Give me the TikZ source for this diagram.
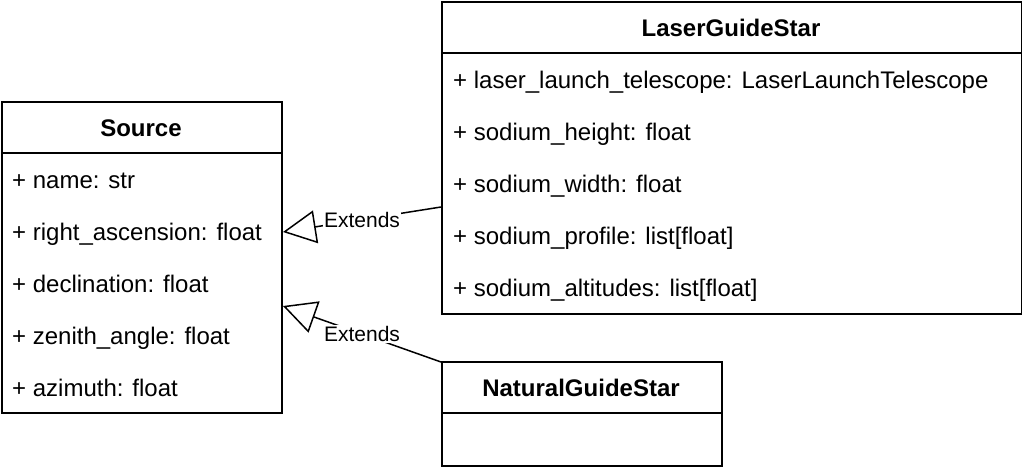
\documentclass[tikz,border=0pt]{standalone}
\usepackage{fontspec}
\setmainfont{Liberation Sans}
\usetikzlibrary{arrows.meta}
\tikzset{
  box/.style={draw, line width=1.5pt, fill=white, anchor=north west, inner sep=0pt},
  title/.style={font=\fontsize{24pt}{28pt}\selectfont\bfseries, inner sep=0pt},
  attr/.style={font=\fontsize{24pt}{28pt}\selectfont, anchor=west, inner sep=0pt, text height=0.75em, text depth=0.25em, yshift=-6pt},
  sep/.style={line width=1.5pt},
  extends/.style={line width=1.5pt, -{Triangle[open, length=33pt, width=33pt, line width=1.5pt]}},
  lbl/.style={font=\fontsize{21pt}{24pt}\selectfont, fill=white, inner sep=1pt}
}
\begin{document}
\begin{tikzpicture}[x=1pt, y=-1pt]
\useasboundingbox (0,0) rectangle (1022,466);
% Source
\node[box, minimum width=280pt, minimum height=311pt] (source) at (1,101) {};
\node[title] (sourceT) at (141,128) {Source};
\draw[sep] (1,153) -- (281,153);
\node[attr] (s1) at (12,180) {+ name: str};
\node[attr] (s2) at (12,232) {+ right\_ascension: float};
\node[attr] (s3) at (12,284) {+ declination: float};
\node[attr] (s4) at (12,336) {+ zenith\_angle: float};
\node[attr] (s5) at (12,388) {+ azimuth: float};
% LaserGuideStar
\node[box, minimum width=580pt, minimum height=312pt] (lgs) at (441,1) {};
\node[title] (lgsT) at (731,28) {LaserGuideStar};
\draw[sep] (441,53) -- (1021,53);
\node[attr] (l1) at (453,80) {+ laser\_launch\_telescope: LaserLaunchTelescope};
\node[attr] (l2) at (453,132) {+ sodium\_height: float};
\node[attr] (l3) at (453,184) {+ sodium\_width: float};
\node[attr] (l4) at (453,236) {+ sodium\_profile: list[float]};
\node[attr] (l5) at (453,288) {+ sodium\_altitudes: list[float]};
% NaturalGuideStar
\node[box, minimum width=280pt, minimum height=104pt] (ngs) at (441,361) {};
\node[title] (ngsT) at (581,388) {NaturalGuideStar};
\draw[sep] (441,413) -- (721,413);
% connectors
\coordinate (lgsA) at (441,207);
\coordinate (srcA) at (283,232);
\coordinate (ngsA) at (441,362);
\coordinate (srcB) at (283,306);
\draw[extends] (lgsA) -- (srcA) node[lbl, pos=0.5] (e1) {Extends};
\draw[extends] (ngsA) -- (srcB) node[lbl, pos=0.5] (e2) {Extends};
\end{tikzpicture}
\end{document}
